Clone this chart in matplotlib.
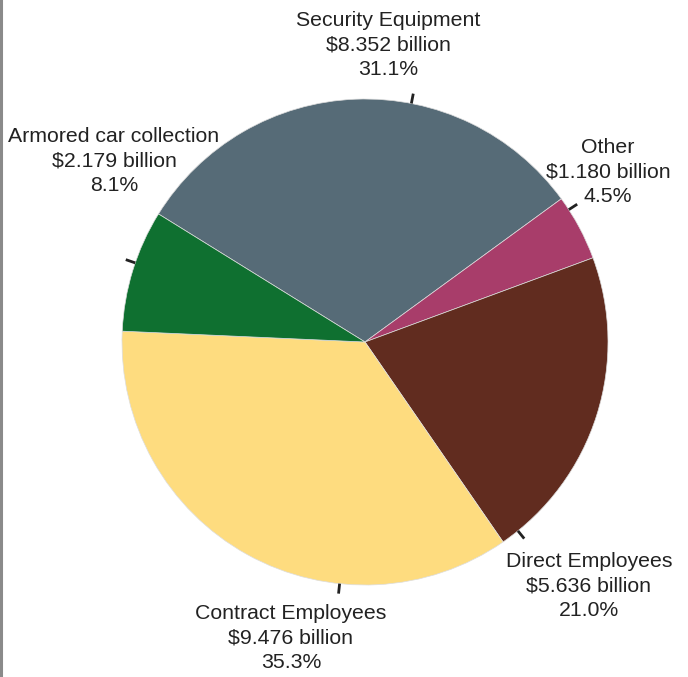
import matplotlib.pyplot as plt
import numpy as np

categories = ["Security Equipment", "Other", "Direct Employees",
              "Contract Employees", "Armored car collection"]
values = [8.352, 1.180, 5.636, 9.476, 2.179]
percents = [31.1, 4.5, 21.0, 35.3, 8.1]
colors = ["#566b77", "#a83d6a", "#612c1f", "#fedc7f", "#0f7030"]

# layout (pixel space, origin bottom-left)
W, H = 688, 677
cx, cy, r = 365, H - 342, 243
tick_angles = [79, 33, -51, -96, 161]
label_pos = [(388, 45), (608, 172), (589, 586), (291, 638), (114, 161)]

plt.rcParams['font.family'] = ['Liberation Sans', 'DejaVu Sans']

fig = plt.figure(figsize=(W / 100, H / 100), dpi=100)
ax = fig.add_axes([0, 0, 1, 1])

ax.pie(values, colors=colors, startangle=148.2, counterclock=False,
       center=(cx, cy), radius=r, frame=True,
       wedgeprops=dict(linewidth=0.5, edgecolor='#dddddd'))
ax.set_xlim(0, W)
ax.set_ylim(0, H)
ax.set_aspect('equal')
ax.axis('off')

for name, v, p, a, (lx, ly) in zip(categories, values, percents, tick_angles, label_pos):
    t = np.deg2rad(a)
    ax.plot([cx + r * np.cos(t), cx + (r + 10) * np.cos(t)],
            [cy + r * np.sin(t), cy + (r + 10) * np.sin(t)],
            color='#222222', linewidth=2, solid_capstyle='butt')
    ax.text(lx, H - ly, f"{name}\n${v:.3f} billion\n{p:.1f}%",
            ha='center', va='center', fontsize=15.3, color='#222222',
            linespacing=1.38)

# gray border at left edge
ax.plot([1.2, 1.2], [0, H], color='#8a8a8a', linewidth=2.2)

fig.savefig("out.png", dpi=100)
